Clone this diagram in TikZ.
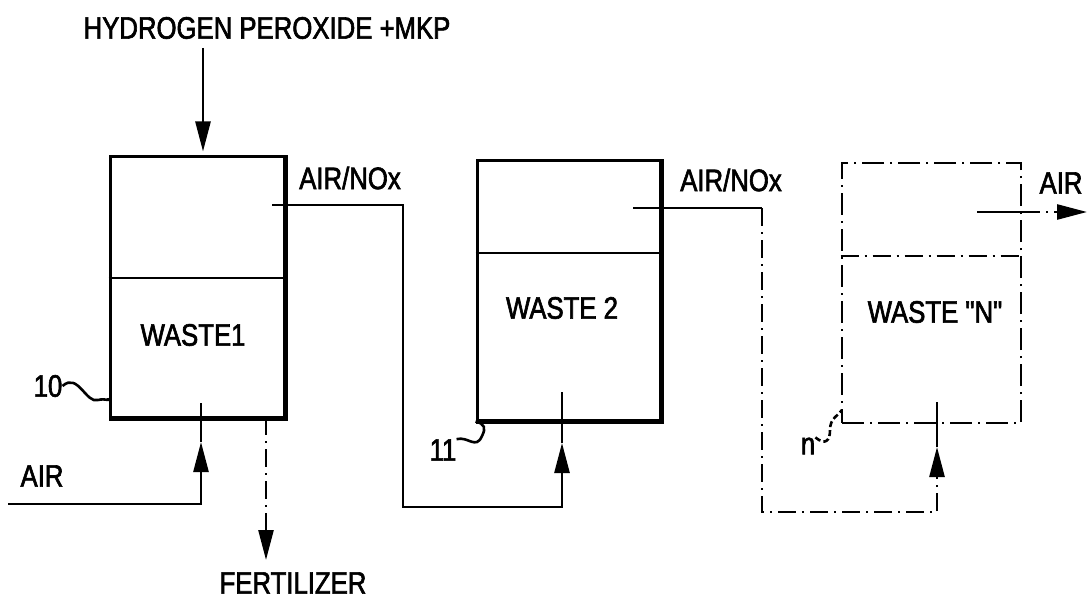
\documentclass[tikz,border=0pt]{standalone}
\usepackage{fontspec}
\newfontfamily\labelfont[FakeStretch=0.83,FakeBold=2]{Liberation Sans}
\usetikzlibrary{arrows.meta}

\tikzset{
  tank/.style={draw, line width=3pt, rectangle, inner sep=0pt},
  tankn/.style={tank, line width=2.6pt, dash pattern=on 22pt off 6pt on 2pt off 6pt},
  pipe/.style={line width=2.6pt},
  dashpipe/.style={line width=2.6pt, dash pattern=on 18pt off 6pt on 2pt off 6pt},
  flow/.style={-{Triangle[length=30pt,width=15pt]}},
  lbl/.style={font=\labelfont\fontsize{31}{34}\selectfont, inner sep=0pt},
}

\begin{document}
\begin{tikzpicture}[x=1pt,y=-1pt]
  \useasboundingbox (0,0) rectangle (1087,599);

  % tanks
  \node[tank, minimum width=174pt, minimum height=260pt] (tank1) at (197,287) {};
  \node[tank, minimum width=183pt, minimum height=259pt] (tank2) at (568.5,290.5) {};
  \node[tankn, minimum width=179pt, minimum height=260pt] (tankN) at (931.5,293) {};

  % heavy edges and gas space
  \draw[line width=5pt] (tank1.north east) -- (tank1.south east) -- (tank1.south west);
  \draw[line width=5pt] (tank2.north east) -- (tank2.south east) -- (tank2.south west);
  \draw[pipe] (tank1.west |- 0,278) -- (tank1.east |- 0,278);
  \draw[pipe] (tank2.west |- 0,253) -- (tank2.east |- 0,253);
  \draw[dashpipe] (tankN.west |- 0,256) -- (tankN.east |- 0,256);

  \node[lbl] (waste1) at (193,335) {WASTE1};
  \node[lbl] (waste2) at (562,308) {WASTE 2};
  \node[lbl] (wasteN) at (935,312) {WASTE "N"};

  % feed
  \node[lbl] (peroxide) at (267,28) {HYDROGEN PEROXIDE +MKP};
  \coordinate (feed) at (203,48);
  \draw[pipe,flow,shorten >=4pt] (feed) -- (feed |- tank1.north);

  % air into tank 1
  \node[lbl] (air1) at (42,476) {AIR};
  \coordinate (airsrc) at (8,504);
  \coordinate (airbend) at (201,504);
  \coordinate (tip1) at (201,442);
  \coordinate (in1) at (201,403);
  \draw[pipe,flow] (airsrc) -- (airbend) -- (tip1);
  \draw[pipe] (tip1) -- (in1);

  % fertilizer out
  \coordinate (drain) at (266,417);
  \coordinate (fert) at (266,560);
  \draw[dashpipe,flow] (drain) -- (fert);
  \node[lbl] (fertilizer) at (293,583) {FERTILIZER};

  % tank 1 to tank 2
  \node[lbl] (nox1) at (350,178) {AIR/NOx};
  \coordinate (out1) at (272,205);
  \coordinate (bend1a) at (403,205);
  \coordinate (bend1b) at (403,507);
  \coordinate (bend1c) at (562,507);
  \coordinate (tip2) at (562,443);
  \coordinate (in2) at (562,392);
  \draw[pipe,flow] (out1) -- (bend1a) -- (bend1b) -- (bend1c) -- (tip2);
  \draw[pipe] (tip2) -- (in2);

  % tank 2 to tank N
  \node[lbl] (nox2) at (731,180) {AIR/NOx};
  \coordinate (out2) at (633,208);
  \coordinate (bend2a) at (762,208);
  \coordinate (bend2b) at (762,512);
  \coordinate (bend2c) at (937,512);
  \coordinate (tipN) at (937,447);
  \coordinate (inN) at (937,402);
  \draw[pipe] (out2) -- (bend2a);
  \draw[dashpipe,flow] (bend2a) -- (bend2b) -- (bend2c) -- (tipN);
  \draw[pipe] (tipN) -- (inN);

  % air out of tank N
  \node[lbl] (airN) at (1061,183) {AIR};
  \coordinate (outN) at (977,212);
  \coordinate (exitN) at (1087,212);
  \draw[pipe] (outN) -- (tankN.east |- outN);
  \draw[dashpipe,flow] (tankN.east |- outN) -- (exitN);

  % reference numerals
  \node[lbl] (ref10) at (48,386) {10};
  \draw[pipe] (ref10.east) .. controls (78,372) and (86,404) .. (98,400)
    .. controls (106,398) and (110,402) .. (tank1.south west |- 0,398);
  \node[lbl] (ref11) at (443,450) {11};
  \draw[pipe] (ref11.north east) .. controls (468,436) and (476,450) .. (482,436)
    .. controls (486,428) and (485,424) .. (tank2.south west);
  \node[lbl] (refn) at (808,446) {n};
  \draw[pipe, dash pattern=on 6pt off 3pt] (refn.north east) .. controls (826,446) and (830,440) .. (830,430)
    .. controls (830,418) and (838,416) .. (842,410);
\end{tikzpicture}
\end{document}
